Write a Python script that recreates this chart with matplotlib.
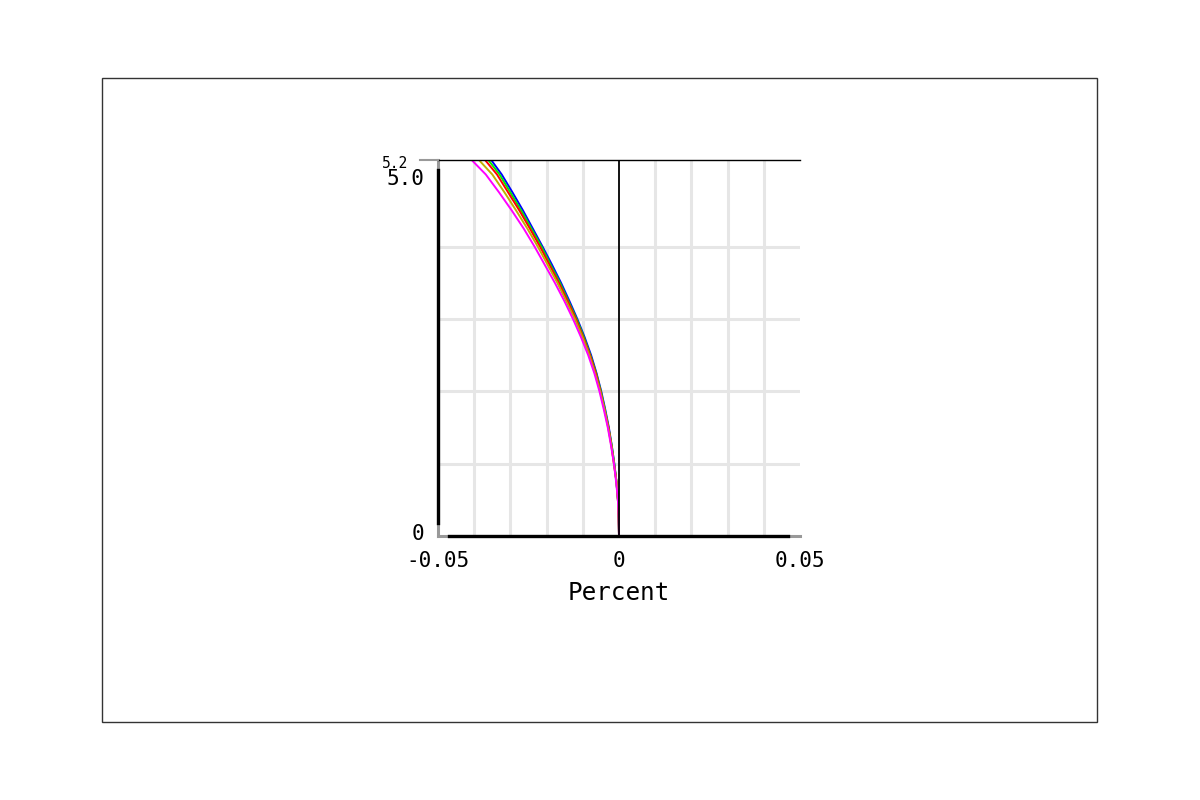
"""
Curves of percent change vs. level, five series, narrow square-ish panel.
"""

import numpy as np
import matplotlib.pyplot as plt
from matplotlib.patches import Rectangle
from matplotlib.transforms import ScaledTranslation

plt.rcParams['font.family'] = ['DejaVu Sans Mono', 'DejaVu Sans']

#> Data
y_vals  = [0.0, 0.25, 0.5, 0.75, 1.0, 1.25, 1.5, 1.75, 2.0, 2.25, 2.5, 2.75,
           3.0, 3.25, 3.5, 3.75, 4.0, 4.25, 4.5, 4.75, 5.0, 5.2]
blue    = [0, -0.0001, -0.0003, -0.0007, -0.0013, -0.0020, -0.0028, -0.0038, -0.0049, -0.0062, -0.0077, -0.0095,
           -0.0115, -0.0137, -0.0160, -0.0185, -0.0211, -0.0238, -0.0265, -0.0294, -0.0324, -0.0353]
green   = [0, -0.0001, -0.0003, -0.0007, -0.0013, -0.0020, -0.0029, -0.0039, -0.0050, -0.0063, -0.0079, -0.0097,
           -0.0117, -0.0140, -0.0163, -0.0189, -0.0214, -0.0242, -0.0270, -0.0300, -0.0330, -0.0361]
red     = [0, -0.0001, -0.0003, -0.0007, -0.0014, -0.0021, -0.0029, -0.0040, -0.0051, -0.0064, -0.0080, -0.0099,
           -0.0119, -0.0142, -0.0166, -0.0192, -0.0218, -0.0246, -0.0275, -0.0306, -0.0337, -0.0370]
olive   = [0, -0.0001, -0.0003, -0.0007, -0.0014, -0.0021, -0.0030, -0.0040, -0.0052, -0.0066, -0.0082, -0.0101,
           -0.0122, -0.0146, -0.0170, -0.0197, -0.0224, -0.0253, -0.0284, -0.0316, -0.0350, -0.0387]
magenta = [0, -0.0001, -0.0003, -0.0008, -0.0014, -0.0022, -0.0031, -0.0042, -0.0054, -0.0068, -0.0085, -0.0105,
           -0.0127, -0.0151, -0.0177, -0.0205, -0.0233, -0.0263, -0.0296, -0.0331, -0.0368, -0.0407]

series = [blue, green, red, olive, magenta]
colors = ['#0000ff', '#00ee00', '#ff0000', '#c0b000', '#ff00ff']

x_ticks = [-0.05, 0, 0.05]
x_ticklabels = ['-0.05', '0', '0.05']
y_ticks = [0, 5.0, 5.2]
y_ticklabels = ['0', '5.0', '5.2']

#> Figure
fig = plt.figure(figsize=(12, 8), dpi=100)
fig.patches.append(Rectangle((102/1200, 1-722/800), 995/1200, 644/800,
                             transform=fig.transFigure, fill=False,
                             edgecolor='#333333', lw=1.0))

ax = fig.add_axes([438/1200, 1-536/800, 362/1200, 376/800])

for vals, c in zip(series, colors):
    ax.plot(vals, y_vals, color=c, lw=1.4)

ax.axvline(0, color='black', lw=1.3, zorder=3)

ax.set_xlim(-0.05, 0.05)
ax.set_ylim(0, 5.2)

#> grid on minor ticks
ax.set_xticks(np.arange(-5, 6) / 100, minor=True)
ax.set_yticks([1, 2, 3, 4, 5], minor=True)
ax.grid(which='minor', color='#e6e6e6', lw=2.2)
ax.set_axisbelow(True)
ax.tick_params(which='minor', length=0)

ax.set_xticks(x_ticks)
ax.set_xticklabels(x_ticklabels, fontsize=15)
ax.set_yticks(y_ticks)
ax.set_yticklabels(y_ticklabels, fontsize=15)
ax.tick_params(which='major', length=0)
ax.tick_params(axis='x', pad=11)
ax.tick_params(axis='y', pad=10)

#> nudge y labels (pixels at dpi 100)
lab = ax.get_yticklabels()
shifts = [4, -3, -2]
for t, dy in zip(lab, shifts):
    t.set_transform(t.get_transform() + ScaledTranslation(0, dy / 100, fig.dpi_scale_trans))
lab[2].set_fontsize(10.5)
lab[2].set_x(-0.045)

ax.set_xlabel('Percent', fontsize=17.5, labelpad=7)

#> spines: gray full, black trimmed on top
for s in ['left', 'bottom']:
    ax.spines[s].set_color('#999999')
    ax.spines[s].set_linewidth(2.2)
ax.spines['right'].set_visible(False)
ax.spines['top'].set_color('black')
ax.spines['top'].set_linewidth(1.0)

ax.plot([0, 0], [0.035, 0.973], color='black', lw=2.4, transform=ax.transAxes,
        clip_on=False, zorder=5)
ax.plot([0.03, 0.967], [0, 0], color='black', lw=2.4, transform=ax.transAxes,
        clip_on=False, zorder=5)
ax.plot([-0.05, 0], [1, 1], color='#999999', lw=1.5, transform=ax.transAxes,
        clip_on=False, zorder=5)

fig.savefig('out.png', dpi=100)
